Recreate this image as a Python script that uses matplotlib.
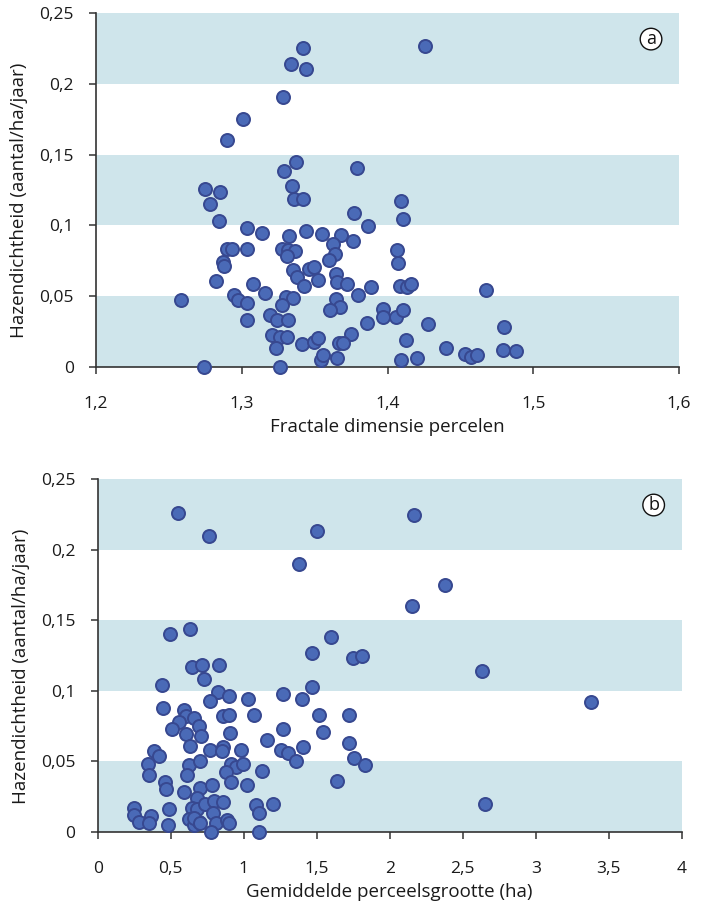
import matplotlib
matplotlib.use("Agg")
import matplotlib.pyplot as plt
from matplotlib.ticker import FixedLocator, FixedFormatter

plt.rcParams['font.family'] = ['Open Sans', 'DejaVu Sans']

# ---------- Panel a: fractal dimension vs hare density ----------
fractal_x = [1.342, 1.426, 1.334, 1.344, 1.328, 1.301, 1.290, 1.3375, 1.329, 1.379,
             1.3345, 1.275, 1.285, 1.2783, 1.3358, 1.3418, 1.4092, 1.3771, 1.4103, 1.2845,
             1.3865, 1.3035, 1.3138, 1.3443, 1.3551, 1.3679, 1.3323, 1.3766, 1.3624, 1.2898,
             1.293, 1.3033, 1.3276, 1.3315, 1.3368, 1.4064, 1.3308, 1.3643, 1.3599, 1.2871,
             1.2875, 1.4069, 1.3354, 1.3459, 1.3496, 1.3647, 1.3377, 1.3526, 1.3652, 1.372,
             1.2822, 1.3079, 1.3425, 1.3886, 1.4089, 1.4133, 1.416, 1.3162, 1.3798, 1.2582,
             1.2948, 1.2971, 1.3038, 1.3303, 1.3354, 1.3274, 1.3647, 1.3674, 1.3605, 1.3972,
             1.3972, 1.4059, 1.4103, 1.3193, 1.3244, 1.3317, 1.3035, 1.3856, 1.4275, 1.3205,
             1.3265, 1.331, 1.3753, 1.3235, 1.3411, 1.3498, 1.3526, 1.3665, 1.3693, 1.4128,
             1.3542, 1.3556, 1.3656, 1.4094, 1.4203, 1.4403, 1.2744, 1.3265, 1.4674, 1.4797,
             1.4529, 1.457, 1.4616, 1.4793, 1.4885]
density_a = [0.2256, 0.227, 0.2138, 0.2107, 0.1906, 0.1754, 0.1605, 0.1447, 0.1385, 0.1403,
             0.1276, 0.1255, 0.1236, 0.1148, 0.1184, 0.1184, 0.1174, 0.1084, 0.1042, 0.1034,
             0.0994, 0.0982, 0.0945, 0.0963, 0.0942, 0.0932, 0.0923, 0.0886, 0.0866, 0.0831,
             0.0831, 0.0833, 0.0833, 0.0824, 0.0815, 0.0824, 0.0781, 0.0800, 0.0753, 0.0739,
             0.0712, 0.0734, 0.0687, 0.0691, 0.0703, 0.0653, 0.0634, 0.0611, 0.0599, 0.0582,
             0.0604, 0.0582, 0.0573, 0.0563, 0.0568, 0.0563, 0.0587, 0.0523, 0.0504, 0.0469,
             0.0509, 0.0473, 0.0450, 0.0492, 0.0483, 0.0433, 0.0481, 0.0422, 0.0398, 0.0407,
             0.0350, 0.0350, 0.0402, 0.0364, 0.0332, 0.0332, 0.0332, 0.0310, 0.0303, 0.0225,
             0.0208, 0.0213, 0.0232, 0.0130, 0.0161, 0.0173, 0.0201, 0.0170, 0.0170, 0.0192,
             0.0050, 0.0083, 0.0062, 0.0050, 0.0062, 0.0132, 0.0, 0.0, 0.0545, 0.0284,
             0.0092, 0.0071, 0.0085, 0.0121, 0.0109]

# ---------- Panel b: mean parcel size vs hare density ----------
size_x = [0.548, 0.764, 1.50, 1.377, 2.166, 2.377, 2.151, 0.632, 0.493, 1.596,
          1.47, 1.751, 1.812, 2.634, 0.644, 0.712, 0.831, 0.73, 0.44, 1.466,
          0.822, 1.267, 0.899, 1.032, 1.401, 0.771, 3.379, 0.447, 0.589, 0.607,
          0.657, 0.861, 0.901, 1.071, 1.518, 1.719, 0.559, 0.696, 0.511, 1.267,
          1.545, 0.607, 0.708, 0.908, 1.162, 1.721, 0.634, 0.769, 0.856, 0.853,
          0.984, 1.258, 1.303, 1.408, 1.356, 1.755, 1.831, 0.386, 0.418, 0.347,
          0.625, 0.70, 0.915, 0.945, 0.993, 0.877, 1.127, 0.351, 0.614, 0.461,
          0.47, 0.913, 0.703, 0.783, 1.021, 1.641, 0.591, 0.682, 0.648, 0.682,
          0.735, 0.797, 0.856, 1.084, 1.203, 1.107, 2.655, 0.251, 0.249, 0.365,
          0.285, 0.349, 0.488, 0.479, 0.623, 0.662, 0.694, 0.662, 0.70, 0.788,
          0.81, 0.884, 0.901, 0.776, 1.107]
density_b = [0.226, 0.210, 0.213, 0.190, 0.225, 0.175, 0.160, 0.144, 0.140, 0.138,
             0.127, 0.123, 0.125, 0.114, 0.117, 0.118, 0.118, 0.1085, 0.104, 0.103,
             0.099, 0.098, 0.096, 0.094, 0.094, 0.093, 0.092, 0.088, 0.086, 0.082,
             0.081, 0.082, 0.083, 0.083, 0.083, 0.083, 0.078, 0.075, 0.073, 0.073,
             0.071, 0.069, 0.068, 0.070, 0.065, 0.063, 0.061, 0.058, 0.060, 0.057,
             0.058, 0.058, 0.056, 0.060, 0.050, 0.052, 0.047, 0.057, 0.054, 0.048,
             0.047, 0.050, 0.048, 0.046, 0.048, 0.042, 0.043, 0.040, 0.040, 0.035,
             0.030, 0.035, 0.031, 0.033, 0.033, 0.036, 0.028, 0.024, 0.017, 0.016,
             0.020, 0.022, 0.021, 0.019, 0.020, 0.013, 0.020, 0.017, 0.012, 0.011,
             0.007, 0.006, 0.016, 0.005, 0.009, 0.005, 0.007, 0.0095, 0.006, 0.013,
             0.006, 0.008, 0.006, 0.0, 0.0]

y_ticks = [0, 0.05, 0.1, 0.15, 0.2, 0.25]
y_tick_labels = ["0", "0,05", "0,1", "0,15", "0,2", "0,25"]
xa_ticks = [1.2, 1.3, 1.4, 1.5, 1.6]
xa_tick_labels = ["1,2", "1,3", "1,4", "1,5", "1,6"]
xb_ticks = [0, 0.5, 1, 1.5, 2, 2.5, 3, 3.5, 4]
xb_tick_labels = ["0", "0,5", "1", "1,5", "2", "2,5", "3", "3,5", "4"]
bands = [(0.0, 0.05), (0.1, 0.15), (0.2, 0.25)]

ylabel = "Hazendichtheid (aantal/ha/jaar)"
xlabel_a = "Fractale dimensie percelen"
xlabel_b = "Gemiddelde perceelsgrootte (ha)"

BAND = "#cfe5eb"
FACE = "#4a6ab7"
EDGE = "#374890"
AXC = "#333333"
TXT = "#1a1a1a"

W, H = 703, 902
fig = plt.figure(figsize=(W / 100, H / 100), dpi=100)

def make_axes(rect_px, x, y, xlim, xticks, xticklabels, xlabel, tag):
    l, t, r, b = rect_px
    ax = fig.add_axes([l / W, 1 - b / H, (r - l) / W, (b - t) / H])
    for lo, hi in bands:
        ax.axhspan(lo, hi, color=BAND, lw=0, zorder=0)
    ax.scatter(x, y, s=88, facecolor=FACE, edgecolor=EDGE, linewidths=1.4,
               zorder=3, clip_on=False)
    ax.set_xlim(*xlim)
    ax.set_ylim(0, 0.25)
    ax.xaxis.set_major_locator(FixedLocator(xticks))
    ax.xaxis.set_major_formatter(FixedFormatter(xticklabels))
    ax.yaxis.set_major_locator(FixedLocator(y_ticks))
    ax.yaxis.set_major_formatter(FixedFormatter(y_tick_labels))
    for s in ("top", "right"):
        ax.spines[s].set_visible(False)
    for s in ("left", "bottom"):
        ax.spines[s].set_color(AXC)
        ax.spines[s].set_linewidth(1.2)
    ax.tick_params(axis="x", direction="out", length=5, width=1.1, color=AXC,
                   pad=16, labelsize=12.5, labelcolor=TXT)
    ax.tick_params(axis="y", direction="out", length=5, width=1.1, color=AXC,
                   pad=11, labelsize=12.5, labelcolor=TXT)
    ax.set_xlabel(xlabel, fontsize=13.5, color=TXT, labelpad=4.5)
    ax.set_ylabel(ylabel, fontsize=13.5, color=TXT)
    ax.yaxis.set_label_coords(-0.116, 0.47)
    ax.set_facecolor("none")
    ax.text(0.952, 0.927, tag, transform=ax.transAxes, ha="center", va="center",
            fontsize=13, color="#111111",
            bbox=dict(boxstyle="circle,pad=0.1", fc="white", ec="#111111", lw=1.0))
    return ax

ax_a = make_axes((96, 13.3, 679, 366.7), fractal_x, density_a, (1.2, 1.6),
                 xa_ticks, xa_tick_labels, xlabel_a, "a")
ax_b = make_axes((97.7, 479.3, 681.7, 831.7), size_x, density_b, (0, 4),
                 xb_ticks, xb_tick_labels, xlabel_b, "b")

fig.savefig("out.png", dpi=100)
